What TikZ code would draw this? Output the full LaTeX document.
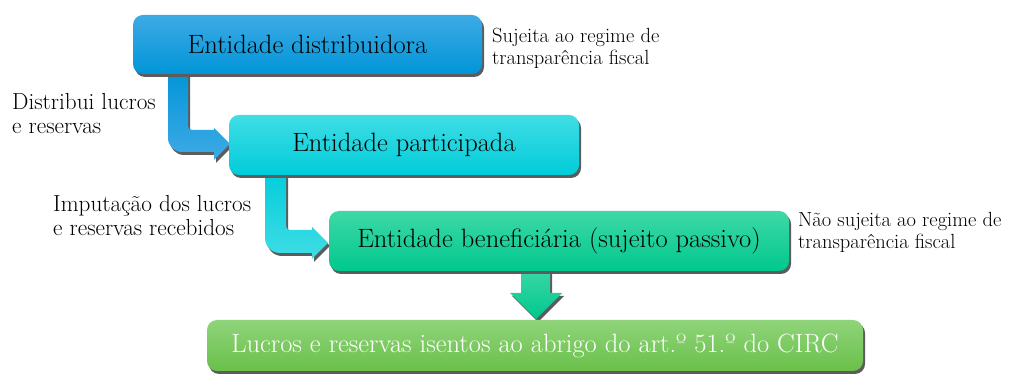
\documentclass[tikz,border=0pt]{standalone}
\usepackage{fontspec}
\usetikzlibrary{shadows}
\definecolor{boxatop}{HTML}{3EAAE5}
\definecolor{boxabot}{HTML}{0095D8}
\definecolor{boxbtop}{HTML}{40DDE4}
\definecolor{boxbbot}{HTML}{00CCDA}
\definecolor{boxctop}{HTML}{3ED8A6}
\definecolor{boxcbot}{HTML}{00C88E}
\definecolor{boxdtop}{HTML}{8FD47B}
\definecolor{boxdbot}{HTML}{6AC049}
\definecolor{shadowgray}{HTML}{5C5C5C}
\newcommand\twolines[2]{\begin{tabular}[t]{@{}l@{}}#1\\#2\end{tabular}}
\tikzset{
  shadowed/.style={drop shadow={shadow xshift=2pt,shadow yshift=-3pt,fill=shadowgray,opacity=1}},
  box/.style={rectangle, rounded corners=10pt, inner sep=0pt, draw=none, shadowed,
    font=\fontsize{26.5}{30}\selectfont},
  sidebig/.style={inner sep=0pt, anchor=base west, font=\fontsize{23.2}{23.3}\selectfont},
  sidesmall/.style={inner sep=0pt, anchor=base west, font=\fontsize{20.5}{22}\selectfont},
}
\begin{document}
\begin{tikzpicture}[x=1pt,y=1pt]
\useasboundingbox (0,0) rectangle (1012,374);
% arrows (behind boxes)
\path[shadowed, top color=boxabot, bottom color=boxatop]
  (168,306) -- (168,236) arc[start angle=180,end angle=270,radius=14] -- (214,222)
  -- (214,214) -- (230,230) -- (214,246) -- (214,244) -- (192,244)
  arc[start angle=270,end angle=180,radius=4] -- (188,306) -- cycle;
\path[shadowed, top color=boxbbot, bottom color=boxbtop]
  (265,206) -- (265,136) arc[start angle=180,end angle=270,radius=15] -- (312,121)
  -- (312,115) -- (328,131) -- (312,147) -- (312,144) -- (290,144)
  arc[start angle=270,end angle=180,radius=4] -- (286,206) -- cycle;
\path[shadowed, top color=boxctop, bottom color=boxcbot]
  (521,108) -- (521,81) -- (510,81) -- (536,55) -- (562,81) -- (550,81) -- (550,108) -- cycle;
% boxes
\node[box, top color=boxatop, bottom color=boxabot, minimum width=349pt, minimum height=59pt]
  (dist) at (307.5,329.5) {Entidade distribuidora};
\node[box, top color=boxbtop, bottom color=boxbbot, minimum width=350pt, minimum height=60pt]
  (part) at (404,229) {Entidade participada};
\node[box, top color=boxctop, bottom color=boxcbot, minimum width=460pt, minimum height=60pt]
  (bene) at (559,133) {Entidade beneficiária (sujeito passivo)};
\node[box, top color=boxdtop, bottom color=boxdbot, minimum width=656pt, minimum height=51pt, text=white]
  (isen) at (535,28.5) {Lucros e reservas isentos ao abrigo do art.º 51.º do CIRC};
% side texts
\node[sidesmall] (t1) at (492,331) {\twolines{Sujeita ao regime de}{transparência fiscal}};
\node[sidebig] (t2) at (12,264) {\twolines{Distribui lucros}{e reservas}};
\node[sidebig] (t3) at (53,162) {\twolines{Imputação dos lucros}{e reservas recebidos}};
\node[sidesmall] (t4) at (798,147) {\twolines{Não sujeita ao regime de}{transparência fiscal}};
\end{tikzpicture}
\end{document}
